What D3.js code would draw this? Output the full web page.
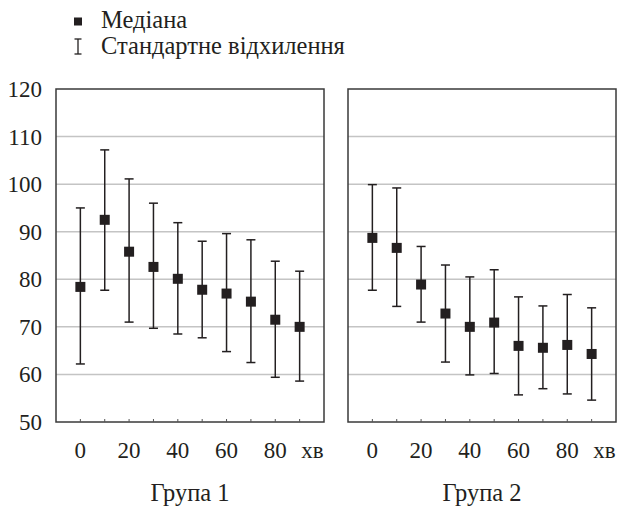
<!DOCTYPE html>
<html><head><meta charset="utf-8">
<script src="https://cdn.jsdelivr.net/npm/d3@7"></script>
<style>body{margin:0;background:#fff}svg{display:block}</style>
</head><body>
<script>
const timePoints = [0,10,20,30,40,50,60,70,80,90];
const tickLabels = ["0","","20","","40","","60","","80","хв"];
const groups = ["Група 1","Група 2"];
const median1 = [78.4,92.5,85.8,82.6,80.1,77.8,77.0,75.3,71.5,70.0];
const upper1  = [95.0,107.2,101.1,96.0,91.9,88.0,89.6,88.3,83.8,81.7];
const lower1  = [62.2,77.7,71.0,69.7,68.5,67.7,64.8,62.5,59.4,58.6];
const median2 = [88.7,86.6,78.9,72.8,70.0,70.9,66.0,65.6,66.2,64.3];
const upper2  = [99.9,99.2,86.9,83.0,80.5,82.0,76.3,74.4,76.8,74.0];
const lower2  = [77.7,74.3,71.0,62.6,59.9,60.2,55.7,57.0,55.9,54.6];
const yTicks = [50,60,70,80,90,100,110,120];
const legendLabels = ["Медіана","Стандартне відхилення"];

const W=618,H=507;
const svg=d3.select("body").append("svg").attr("width",W).attr("height",H);
const y=d3.scaleLinear().domain([50,120]).range([422,89]);
const panels=[{x0:56,x1:324,med:median1,up:upper1,lo:lower1,name:groups[0]},
              {x0:348,x1:616,med:median2,up:upper2,lo:lower2,name:groups[1]}];
const txt=(sz)=>(sel)=>sel.style("font-family","'Liberation Serif', serif").style("font-size",sz+"px").attr("fill","#231f20");

svg.append("g").selectAll("text").data(yTicks).join("text")
  .attr("x",42).attr("y",d=>y(d)).attr("dy","0.35em").attr("text-anchor","end")
  .call(txt(23)).text(d=>d);

panels.forEach(p=>{
  const x=d3.scalePoint().domain(timePoints).range([p.x0,p.x1]).padding(1);
  const g=svg.append("g");
  g.selectAll("line.grid").data(yTicks.filter(d=>d>50&&d<120)).join("line")
    .attr("x1",p.x0).attr("x2",p.x1).attr("y1",d=>y(d)).attr("y2",d=>y(d))
    .attr("stroke","#c4c4c4").attr("stroke-width",1.5);
  g.append("rect").attr("x",p.x0).attr("y",y(120)).attr("width",p.x1-p.x0).attr("height",y(50)-y(120))
    .attr("fill","none").attr("stroke","#3a3a3a").attr("stroke-width",1.5);
  g.selectAll("line.tk").data(timePoints).join("line")
    .attr("x1",d=>x(d)).attr("x2",d=>x(d)).attr("y1",y(50)).attr("y2",y(50)-3)
    .attr("stroke","#555").attr("stroke-width",1);
  const eb=g.selectAll("g.eb").data(timePoints).join("g");
  eb.append("line").attr("x1",d=>x(d)).attr("x2",d=>x(d))
    .attr("y1",(d,i)=>y(p.up[i])).attr("y2",(d,i)=>y(p.lo[i]))
    .attr("stroke","#231f20").attr("stroke-width",1.5);
  eb.append("line").attr("x1",d=>x(d)-4.5).attr("x2",d=>x(d)+4.5)
    .attr("y1",(d,i)=>y(p.up[i])).attr("y2",(d,i)=>y(p.up[i]))
    .attr("stroke","#231f20").attr("stroke-width",1.5);
  eb.append("line").attr("x1",d=>x(d)-4.5).attr("x2",d=>x(d)+4.5)
    .attr("y1",(d,i)=>y(p.lo[i])).attr("y2",(d,i)=>y(p.lo[i]))
    .attr("stroke","#231f20").attr("stroke-width",1.5);
  eb.append("rect").attr("x",d=>x(d)-5).attr("y",(d,i)=>y(p.med[i])-5)
    .attr("width",10).attr("height",10).attr("fill","#231f20");
  g.selectAll("text.tl").data(timePoints).join("text")
    .attr("x",(d,i)=>i===9?x(d)+1.5:x(d)).attr("y",458)
    .attr("text-anchor",(d,i)=>i===9?"start":"middle")
    .call(txt(23)).text((d,i)=>tickLabels[i]);
  g.append("text").attr("x",(p.x0+p.x1)/2).attr("y",501).attr("text-anchor","middle")
    .call(txt(24.5)).text(p.name);
});

const lg=svg.append("g");
lg.append("rect").attr("x",74).attr("y",17.5).attr("width",8).attr("height",8).attr("fill","#231f20");
lg.append("text").attr("x",101).attr("y",28).call(txt(24.5)).text(legendLabels[0]);
lg.append("line").attr("x1",78).attr("x2",78).attr("y1",39).attr("y2",54).attr("stroke","#231f20").attr("stroke-width",1.3);
lg.append("line").attr("x1",74.5).attr("x2",81.5).attr("y1",39).attr("y2",39).attr("stroke","#231f20").attr("stroke-width",1.3);
lg.append("line").attr("x1",74.5).attr("x2",81.5).attr("y1",54).attr("y2",54).attr("stroke","#231f20").attr("stroke-width",1.3);
lg.append("text").attr("x",101).attr("y",53.5).call(txt(24.5)).text(legendLabels[1]);
</script>
</body></html>
